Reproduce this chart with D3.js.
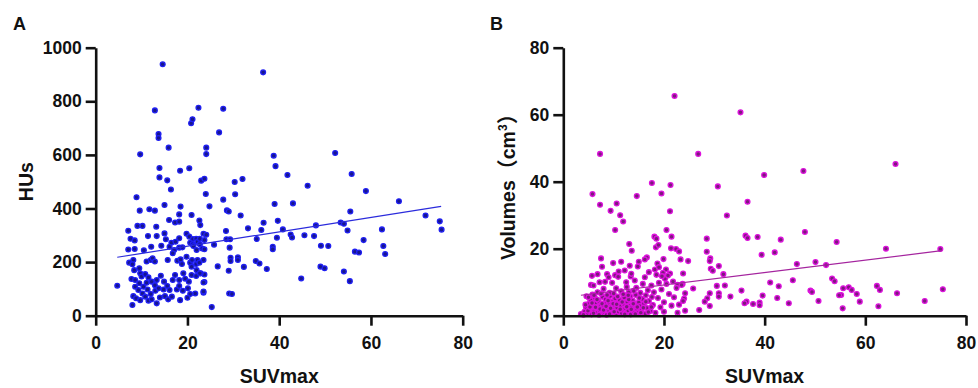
<!DOCTYPE html>
<html><head><meta charset="utf-8">
<script src="https://cdn.jsdelivr.net/npm/d3@7"></script>
<style>
body{margin:0;background:#fff}
svg{display:block}
text{font-family:"Liberation Sans",Arial,sans-serif;font-weight:bold;fill:#111}
</style>
</head><body><svg id="c" width="978" height="388"></svg>
<script>
// ---- data ----
const xTicks = [0, 20, 40, 60, 80];
const yTicksA = [0, 200, 400, 600, 800, 1000];
const yTicksB = [0, 20, 40, 60, 80];
const panelLabels = ["A", "B"];
const xTitle = "SUVmax";
const yTitleA = "HUs";

// Panel A: [SUVmax, HUs]
const pointsA = [
[14.6,938],[36.5,908],[12.9,766],[22.4,776],[27.8,772],[20.8,718],[21.1,733],[26.9,684],[13.7,678],[13.7,663],
[15.9,627],[24.1,627],[24.1,603],[9.7,602],[38.8,597],[39.2,558],[41.8,525],[52.2,607],[55.8,529],[58.9,465],
[46.2,485],[66.1,427],[43.0,419],[39.0,417],[30.3,499],[32.0,510],[30.4,453],[27.8,433],[28.6,393],[29.0,389],
[31.6,374],[13.9,551],[13.9,516],[18.4,541],[20.4,550],[15.6,505],[16.4,471],[23.0,504],[23.7,511],[24.0,454],
[24.8,408],[8.9,442],[15.0,413],[18.5,407],[9.6,392],[11.7,397],[12.9,392],[20.9,376],[18.2,378],[16.0,357],
[17.3,348],[18.2,351],[22.6,355],[22.8,338],[7.1,317],[9.1,335],[10.2,335],[7.6,287],[8.5,281],[11.4,297],
[13.2,332],[13.3,297],[15.0,307],[15.3,285],[16.5,272],[17.4,276],[18.2,289],[19.8,306],[20.4,295],[21.2,286],
[21.9,287],[22.2,276],[22.7,287],[23.7,282],[22.7,267],[23.5,306],[24.1,302],[25.8,265],[28.4,316],[28.5,285],
[29.3,285],[29.2,254],[33.2,326],[35.1,286],[36.6,347],[36.1,320],[34.9,204],[35.7,195],[37.3,174],[38.6,257],
[38.6,248],[39.5,291],[39.7,354],[40.8,322],[42.5,303],[42.8,292],[45.5,300],[47.6,297],[48.0,337],[44.8,139],
[49.0,183],[49.9,177],[49.1,261],[50.7,260],[53.4,348],[54.1,343],[54.9,318],[55.5,389],[54.1,165],[55.4,129],
[56.5,239],[57.4,236],[58.4,282],[62.4,322],[62.7,260],[63.1,230],[71.9,374],[75.0,352],[75.4,321],[4.7,112],
[8.0,40],[25.3,32],[29.4,216],[29.4,204],[31.0,218],[31.0,208],[32.3,182],[29.0,168],[26.6,184],[29.1,83],
[29.7,81],[23.5,86],[23.7,154],[23.7,126],
[7.1,247],[8.5,249],[10.5,244],[12.1,257],[14.3,261],[16.1,257],[17.1,245],[18.2,254],[18.9,255],[20.6,272],
[21.1,267],[21.3,260],[22.0,245],[23.2,251],[23.7,248],
[7.3,198],[8.2,208],[8.0,192],[8.4,170],[9.5,177],[11.1,202],[12.0,208],[12.4,214],[12.9,202],[15.7,208],
[16.8,233],[17.8,205],[18.5,210],[18.8,193],[19.8,220],[20.6,198],[21.0,208],[21.9,193],[22.2,208],[22.6,198],
[23.5,208],[20.9,183],[22.0,170],[22.9,158],
[7.8,137],[8.6,133],[9.7,158],[10.0,146],[10.8,155],[11.5,143],[9.5,121],[10.4,108],[11.1,123],[12.2,127],
[12.9,114],[13.3,133],[14.2,149],[14.9,127],[15.6,111],[16.8,133],[17.3,152],[18.2,133],[19.1,158],[19.5,138],
[20.3,127],[20.9,152],[21.9,148],[22.7,158],[23.5,124],[8.6,108],[9.3,96],[10.2,83],[11.3,98],[12.0,81],
[13.0,93],[13.7,102],[14.8,98],[16.1,96],[17.7,98],[18.2,111],[19.0,93],[20.1,102],[20.6,81],[21.7,83],
[23.5,90],
[8.2,73],[8.8,65],[9.7,58],[10.8,71],[11.5,56],[12.2,61],[13.3,46],[14.0,68],[15.1,73],[15.8,61],
[16.6,71],[18.4,58],[20.0,67]
];
const fitA = [[4.7,218],[75.3,408]];

// Panel B: [SUVmax, Volume cm3]
const pointsB = [
[22.1,65.6],[35.2,60.7],[7.3,48.3],[26.8,48.3],[66.0,45.3],[47.7,43.2],[39.9,42.0],[5.8,36.3],[14.6,35.7],[19.5,36.5],
[21.3,39.0],[17.6,39.6],[30.7,38.6],[21.2,31.2],[36.6,34.0],[7.3,33.1],[10.6,33.5],[9.4,31.3],[11.3,30.0],[11.9,28.1],
[10.3,25.6],[32.5,29.9],[20.5,25.6],[21.5,23.6],[18.1,23.6],[18.5,23.0],[28.5,23.0],[36.2,23.9],[36.6,23.2],[38.6,23.5],
[48.0,25.0],[43.2,22.7],[54.3,22.0],[64.1,20.0],[74.9,19.9],[42.0,18.9],[39.4,18.2],[52.2,15.1],[50.1,16.0],[46.4,15.4],
[41.1,9.9],[42.8,8.8],[45.6,10.6],[53.4,11.1],[53.9,10.3],[55.6,8.2],[56.7,8.5],[57.3,7.7],[58.3,6.5],[58.9,4.2],
[55.2,6.2],[54.8,6.1],[55.5,2.2],[62.3,8.9],[62.9,7.7],[62.6,2.8],[66.3,6.7],[71.8,4.4],[75.4,7.9],[49.1,7.5],
[49.4,7.1],[50.7,4.4],[44.8,3.7],[42.5,5.3],[39.6,6.0],[39.0,3.9],[39.0,3.1],[37.7,3.5],[36.4,4.2],[36.0,3.7],
[35.4,7.5],[33.2,5.7],[32.1,9.0],[31.8,12.4],[30.9,14.8],[29.2,17.1],[29.1,16.3],[28.5,19.1],[29.3,14.0],[29.7,13.4],
[30.5,8.9],[30.9,6.7],[30.9,5.7],[29.1,6.7],[28.6,5.2],[28.1,4.2],[27.0,1.7],[29.1,2.9],[24.8,16.3],[25.8,8.1],
[22.4,19.9],[23.0,19.2],[21.4,20.1],[23.3,16.8],[23.8,12.6],[22.7,9.2],[23.7,9.5],[24.0,5.1],[23.8,4.4],[24.2,1.5],
[22.7,0.9],[20.0,1.2],[21.2,12.6],[20.4,13.8],[19.9,16.9],[18.7,15.6],[16.6,17.4],[16.2,16.8],[15.0,16.1],[14.8,14.7],
[13.2,14.9],[13.4,11.7],[12.2,13.5],[11.5,16.1],[9.9,15.7],[7.5,17.1],[7.7,14.6],[6.8,12.4],[5.7,11.9],[5.5,9.2],
[5.3,5.0],[8.7,12.4],[8.3,10.1],[10.3,12.1],[10.9,11.6],[13.1,21.4],[13.6,19.4],[18.4,20.4],[18.9,21.1],
[3.5,0.5],[4.2,1.2],[4.5,2.5],[4.8,0.8],[5.0,3.5],[5.2,1.8],[5.5,4.6],[5.6,0.4],[5.9,2.9],[6.1,1.3],
[6.3,5.2],[6.5,3.9],[6.6,0.9],[6.9,2.2],[7.0,4.4],[7.2,1.5],[7.4,3.1],[7.6,0.6],[7.8,5.6],[7.9,2.6],
[8.1,1.1],[8.3,3.8],[8.4,4.9],[8.6,0.3],[8.8,2.0],[9.0,3.3],[9.1,1.4],[9.3,5.9],[9.5,2.7],[9.6,0.8],
[9.8,4.2],[10.0,1.9],[10.2,3.0],[10.3,5.1],[10.5,0.5],[10.7,2.4],[10.9,3.9],[11.0,1.2],[11.2,4.7],[11.4,2.9],
[11.6,0.7],[11.8,1.8],[12.0,3.5],[12.1,5.4],[12.3,2.2],[12.5,0.9],[12.7,4.1],[12.9,1.5],[13.1,3.0],[13.3,5.8],
[13.4,0.4],[13.6,2.6],[13.8,4.5],[14.0,1.3],[14.2,3.4],[14.4,6.2],[14.6,2.0],[14.8,0.8],[15.0,4.0],[15.2,2.9],
[15.5,1.6],[15.7,5.0],[16.0,3.6],[16.3,0.6],[16.6,2.3],[17.0,4.4],[17.3,1.4],[17.8,3.2],[18.3,0.9],[18.8,5.3],
[19.3,2.5],[20.0,4.0],[5.8,6.3],[6.8,7.0],[9.2,6.8],[11.5,7.3],[13.0,7.0],[15.3,6.8],[4.6,5.8],[8.0,8.0],
[10.5,8.2],[12.6,8.6],[14.5,8.3],[16.8,7.6],[18.0,7.0],[19.5,7.8],[21.0,6.5],[22.0,5.5],[21.5,3.0],[23.0,3.3],
[17.5,9.0],[19.0,9.8],[20.2,11.0],[18.5,12.2],[16.2,11.5],[14.2,10.5],[12.5,10.0],[9.7,9.8],[7.2,10.0],[6.0,9.0],
[19.8,12.8],[20.8,12.0],[21.8,10.2],[22.5,8.3],[23.5,9.2],[24.2,6.7],[17.0,13.0],[18.2,13.8],[19.0,14.5],[19.6,11.8],
[20.5,9.5],[15.8,9.5],[13.5,12.5],[11.0,13.2],[9.0,11.5],
[4.0,0.3],[4.4,3.3],[4.9,1.5],[5.3,2.6],[5.7,3.8],[6.0,0.7],[6.4,2.5],[6.7,4.8],[7.1,0.3],[7.3,2.0],
[7.7,3.6],[8.0,1.7],[8.5,2.8],[8.9,4.5],[9.2,0.5],[9.4,2.2],[9.9,3.6],[10.1,1.2],[10.6,3.4],[10.8,5.7],
[11.3,1.9],[11.7,4.1],[12.2,0.4],[12.6,2.7],[13.0,4.8],[13.5,1.9],[13.9,3.6],[14.3,0.5],[14.7,2.6],[15.1,5.3],
[15.4,0.9],[15.9,2.4],[16.4,4.2],[16.9,1.1],[17.5,2.6],[5.0,5.5],[6.1,6.1],[7.5,6.6],[8.7,6.2],[10.0,6.6],
[11.9,6.4],[12.9,6.1],[14.0,7.4],[16.4,6.1],[17.6,5.6]
];
const fitB = [[3.5,6.1],[75.2,19.4]];

// ---- drawing ----
const svg = d3.select("#c");
svg.append("rect").attr("width",978).attr("height",388).attr("fill","#fff");

const panels = [
  {left:95.7, right:462.7, top:47.7, bottom:315.7, yMax:1000, yTicks:yTicksA, pts:pointsA, fit:fitA,
   fill:"#16168e", stroke:"#1f1ff2", line:"#2b2bdc", label:panelLabels[0], lx:13, titleX:33},
  {left:563.3, right:966, top:47.7, bottom:315.7, yMax:80, yTicks:yTicksB, pts:pointsB, fit:fitB,
   fill:"#7c1a7c", stroke:"#dd12dd", line:"#a4249e", label:panelLabels[1], lx:490, titleX:515}
];

panels.forEach((p,i)=>{
  const x = d3.scaleLinear().domain([0,80]).range([p.left,p.right]);
  const y = d3.scaleLinear().domain([0,p.yMax]).range([p.bottom,p.top]);
  const g = svg.append("g");

  // points
  g.append("g").selectAll("circle").data(p.pts).join("circle")
    .attr("cx",d=>x(d[0])).attr("cy",d=>y(d[1])).attr("r",2.4)
    .attr("fill",p.fill).attr("stroke",p.stroke).attr("stroke-width",1.3);

  // fit line
  g.append("line")
    .attr("x1",x(p.fit[0][0])).attr("y1",y(p.fit[0][1]))
    .attr("x2",x(p.fit[1][0])).attr("y2",y(p.fit[1][1]))
    .attr("stroke",p.line).attr("stroke-width",1.2);

  // axes
  const fmt = d3.format("d");
  const xa = g.append("g").attr("transform",`translate(0,${p.bottom})`)
    .call(d3.axisBottom(x).tickValues(xTicks).tickFormat(fmt).tickSize(10).tickSizeOuter(0).tickPadding(11));
  const ya = g.append("g").attr("transform",`translate(${p.left},0)`)
    .call(d3.axisLeft(y).tickValues(p.yTicks).tickFormat(fmt).tickSize(10).tickSizeOuter(0).tickPadding(4));
  [xa,ya].forEach(a=>{
    a.select(".domain").attr("stroke","#111").attr("stroke-width",2.6);
    a.selectAll(".tick line").attr("stroke","#111").attr("stroke-width",2.6);
    a.selectAll(".tick text").attr("font-size",17.5).attr("font-family",'"Liberation Sans",Arial,sans-serif').attr("font-weight","bold").attr("fill","#111");
  });

  // x title
  g.append("text").attr("x",(p.left+p.right)/2).attr("y",383).attr("text-anchor","middle")
    .attr("font-size",19.5).text(xTitle);

  // y title
  const yt = g.append("text").attr("text-anchor","middle").attr("font-size",19.5)
    .attr("transform",`translate(${p.titleX},${(p.top+p.bottom)/2}) rotate(-90)`);
  if(i===0){ yt.text(yTitleA); }
  else {
    yt.append("tspan").text("Volumes");
    yt.append("tspan").attr("font-family",'"Noto Sans CJK SC",sans-serif').attr("font-weight","bold").attr("font-size",21).text("（");
    yt.append("tspan").text("cm");
    yt.append("tspan").attr("font-size",12).attr("dy",-8).text("3");
    yt.append("tspan").attr("dy",8).attr("font-family",'"Noto Sans CJK SC",sans-serif').attr("font-weight","bold").attr("font-size",21).text("）");
  }

  // panel letter
  g.append("text").attr("x",p.lx).attr("y",30).attr("font-size",18).text(p.label);
});
</script>
</body></html>
